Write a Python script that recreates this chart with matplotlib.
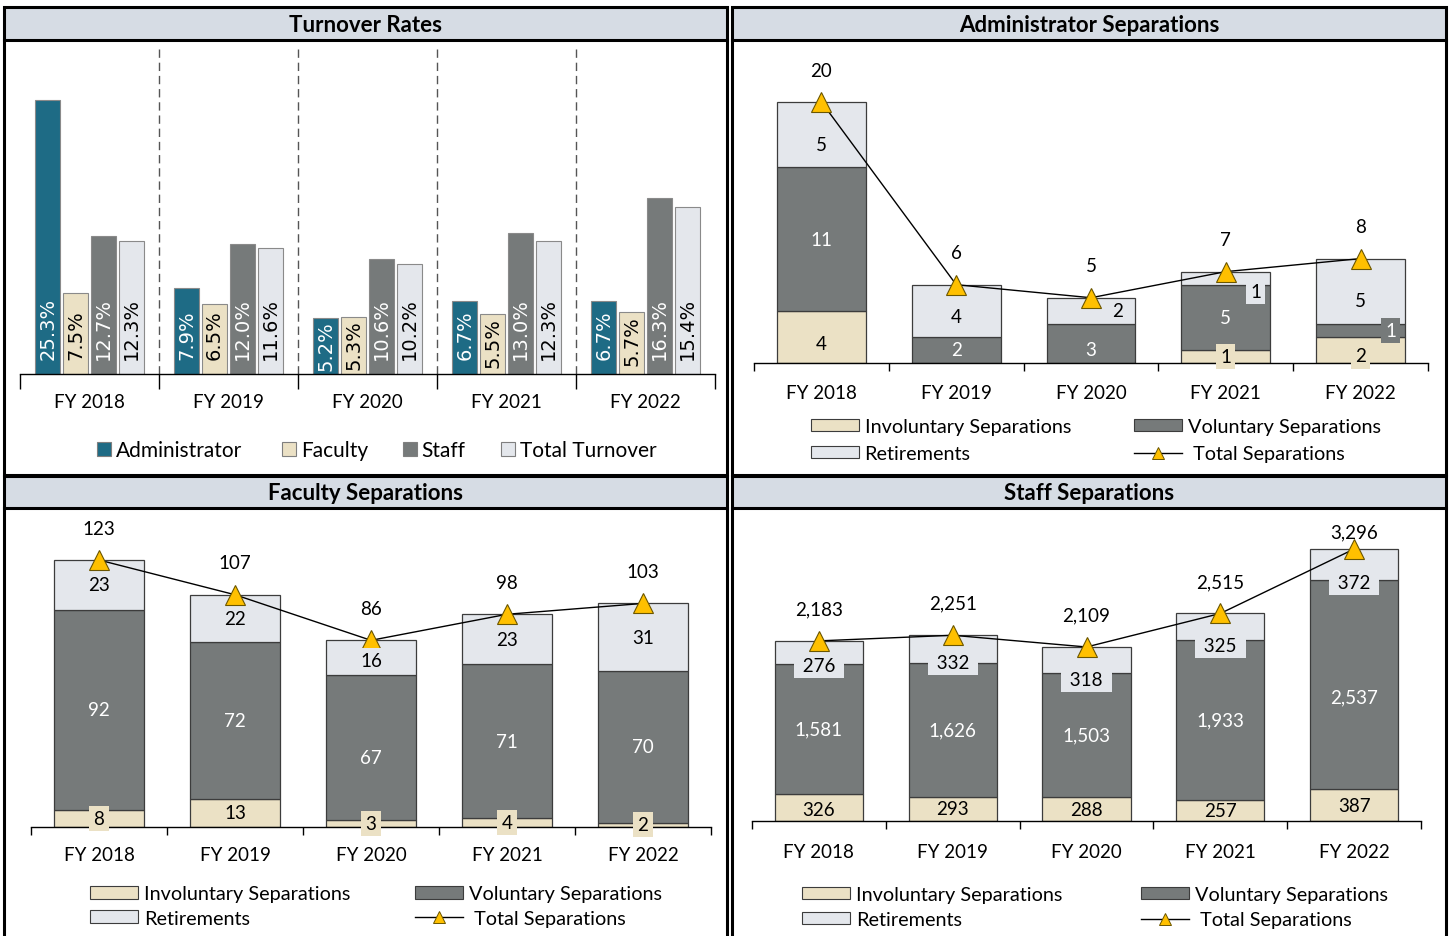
import matplotlib.pyplot as plt
from matplotlib.patches import Rectangle, Patch
from matplotlib.lines import Line2D
import numpy as np

plt.rcParams['font.family'] = ['Lato', 'DejaVu Sans']

years = ['FY 2018', 'FY 2019', 'FY 2020', 'FY 2021', 'FY 2022']

# turnover rates (%)
rate_admin = [25.3, 7.9, 5.2, 6.7, 6.7]
rate_faculty = [7.5, 6.5, 5.3, 5.5, 5.7]
rate_staff = [12.7, 12.0, 10.6, 13.0, 16.3]
rate_total = [12.3, 11.6, 10.2, 12.3, 15.4]

# separations
admin_inv = [4, 0, 0, 1, 2]
admin_vol = [11, 2, 3, 5, 1]
admin_ret = [5, 4, 2, 1, 5]
admin_total = [20, 6, 5, 7, 8]

faculty_inv = [8, 13, 3, 4, 2]
faculty_vol = [92, 72, 67, 71, 70]
faculty_ret = [23, 22, 16, 23, 31]
faculty_total = [123, 107, 86, 98, 103]

staff_inv = [326, 293, 288, 257, 387]
staff_vol = [1581, 1626, 1503, 1933, 2537]
staff_ret = [276, 332, 318, 325, 372]
staff_total = [2183, 2251, 2109, 2515, 3296]

C_ADMIN = '#1E6B85'
C_INV = '#EBE1C5'
C_VOL = '#767A7A'
C_RET = '#E4E7EC'
C_HEAD = '#D6DCE4'
C_GOLD = '#FFC000'
EDGE = '#3c3c3c'

W, H = 1449, 937
fig = plt.figure(figsize=(W / 100, H / 100), dpi=100)


def fx(x):
    return x / W


def fy(y):
    return 1 - y / H


def axes_px(x0, y0, x1, y1):
    ax = fig.add_axes([x0 / W, 1 - y1 / H, (x1 - x0) / W, (y1 - y0) / H])
    ax.patch.set_alpha(0)
    return ax


def panel(x0, y0, x1, y1, yh, title):
    fig.add_artist(Rectangle((fx(x0), fy(yh)), (x1 - x0) / W, (yh - y0) / H,
                             transform=fig.transFigure, fc=C_HEAD, ec='none', zorder=-1))
    fig.add_artist(Rectangle((fx(x0), fy(y1)), (x1 - x0) / W, (y1 - y0) / H,
                             transform=fig.transFigure, fill=False, ec='black', lw=2.2, zorder=10))
    fig.add_artist(Line2D([fx(x0), fx(x1)], [fy(yh), fy(yh)], transform=fig.transFigure,
                          color='black', lw=2.2, zorder=10))
    fig.text(fx((x0 + x1) / 2), fy((y0 + yh) / 2 + 1), title, ha='center', va='center',
             fontsize=16, fontweight='bold')


def category_axis(ax, ticklen, pad):
    ax.set_xlim(-0.5, 4.5)
    for s in ['left', 'right', 'top']:
        ax.spines[s].set_visible(False)
    ax.spines['bottom'].set_linewidth(1)
    ax.set_yticks([])
    ax.set_xticks(np.arange(-0.5, 5, 1))
    ax.set_xticklabels([])
    ax.tick_params(axis='x', which='major', length=ticklen, width=1, direction='out')
    ax.set_xticks(np.arange(5), minor=True)
    ax.set_xticklabels(years, minor=True, fontsize=13.5)
    ax.tick_params(axis='x', which='minor', length=0, pad=pad)


panel(4, 8, 727, 476, 41, 'Turnover Rates')
panel(732, 8, 1446, 476, 41, 'Administrator Separations')
panel(4, 477, 727, 945, 509, 'Faculty Separations')
panel(732, 477, 1446, 945, 509, 'Staff Separations')

# ---------------- Turnover rates ----------------
ax = axes_px(20, 48, 715, 375)
category_axis(ax, 11, 14)
ax.set_ylim(0, 30.2)
x = np.arange(5)
series = [(rate_admin, C_ADMIN, 'white', 'Administrator'),
          (rate_faculty, C_INV, 'black', 'Faculty'),
          (rate_staff, C_VOL, 'white', 'Staff'),
          (rate_total, C_RET, 'black', 'Total Turnover')]
offsets = [-0.3, -0.1, 0.1, 0.3]
for (vals, col, tcol, name), off in zip(series, offsets):
    ax.bar(x + off, vals, 0.18, color=col, edgecolor='#8a8a8a', lw=0.8, zorder=2)
    for xi, v in zip(x, vals):
        if v < 6:
            ax.text(xi + off, v - 0.25, f'{v:.1f}%', rotation=90, ha='center', va='top',
                    fontsize=14, color=tcol, family='DejaVu Sans', zorder=3)
        else:
            ax.text(xi + off, 1.4, f'{v:.1f}%', rotation=90, ha='center', va='bottom',
                    fontsize=14, color=tcol, family='DejaVu Sans', zorder=3)
ax.vlines([0.5, 1.5, 2.5, 3.5], 0, 30.2, colors='#555555', lw=1,
          linestyles=(0, (6, 3.5)), zorder=1)

for (vals, col, tcol, name), sx in zip(series, [97, 282, 403, 501]):
    fig.legend(handles=[Patch(fc=col, ec='#7f7f7f', lw=0.8)], labels=[name],
               loc='center left', bbox_to_anchor=(fx(sx), fy(451)), frameon=False,
               fontsize=15, handlelength=0.65, handleheight=0.65, handletextpad=0.25,
               borderpad=0, borderaxespad=0)


# ---------------- Stacked separations ----------------
def stacked(box, ylim_top, inv, vol, ret, total, fmt, ret_at_base, nudges, boxed,
            leg, spacing, pad, total_dy):
    ax = axes_px(*box)
    category_axis(ax, 6, pad)
    ax.set_ylim(0, ylim_top)
    x = np.arange(5)
    inv = np.array(inv)
    vol = np.array(vol)
    ret = np.array(ret)
    ax.bar(x, inv, 0.66, color=C_INV, edgecolor=EDGE, lw=0.9, zorder=2)
    ax.bar(x, vol, 0.66, bottom=inv, color=C_VOL, edgecolor=EDGE, lw=0.9, zorder=2)
    ax.bar(x, ret, 0.66, bottom=inv + vol, color=C_RET, edgecolor=EDGE, lw=0.9, zorder=2)

    parts = [('inv', inv, np.zeros(5), C_INV, 'black'),
             ('vol', vol, inv, C_VOL, 'white'),
             ('ret', ret, inv + vol, C_RET, 'black')]
    for key, vals, base, col, tcol in parts:
        for i in range(5):
            v = vals[i]
            if v == 0:
                continue
            label = fmt(v)
            if key == 'ret' and ret_at_base:
                yv = base[i]
                label = f' {label} '
            else:
                yv = base[i] + v / 2
            dx, dy = nudges.get((key, i), (0, 0))
            bb = None
            z = 4
            if (key, i) in boxed or (key == 'ret' and ret_at_base):
                bb = dict(fc=col, ec='none', pad=3)
                z = 6
            ax.annotate(label, (i, yv), xytext=(dx * 0.72, -dy * 0.72),
                        textcoords='offset points', ha='center', va='center',
                        fontsize=13.5, color=tcol, bbox=bb, zorder=z)

    ax.plot(x, total, color='black', lw=1, marker='^', ms=14, mfc=C_GOLD,
            mec='#6b5600', mew=0.8, zorder=5)
    for i, t in enumerate(total):
        ax.annotate(fmt(t), (i, t), xytext=(0, total_dy.get(i, 23)), textcoords='offset points',
                    ha='center', va='center', fontsize=13.5, zorder=5)

    (lx1, lx2, ly) = leg
    h_inv = Patch(fc=C_INV, ec=EDGE, lw=0.8)
    h_vol = Patch(fc=C_VOL, ec=EDGE, lw=0.8)
    h_ret = Patch(fc=C_RET, ec=EDGE, lw=0.8)
    h_tot = Line2D([], [], color='black', lw=1, marker='^', ms=9, mfc=C_GOLD,
                   mec='#6b5600', mew=0.7)
    kw = dict(loc='center left', frameon=False, fontsize=14.3, handlelength=2.4,
              handleheight=0.6, handletextpad=0.3, labelspacing=spacing,
              borderpad=0, borderaxespad=0)
    fig.legend(handles=[h_inv, h_ret], labels=['Involuntary Separations', 'Retirements'],
               bbox_to_anchor=(fx(lx1), fy(ly)), **kw)
    fig.legend(handles=[h_vol, h_tot], labels=['Voluntary Separations', ' Total Separations'],
               bbox_to_anchor=(fx(lx2), fy(ly)), **kw)
    return ax


stacked((754, 45, 1428, 364), 24.44, admin_inv, admin_vol, admin_ret, admin_total,
        lambda v: f'{v}', False,
        {('inv', 0): (0, 7), ('ret', 0): (0, 10), ('ret', 1): (0, 6), ('vol', 2): (0, 6),
         ('ret', 2): (27, 0), ('ret', 3): (30, 13), ('vol', 4): (30, 0),
         ('inv', 4): (0, 6), ('ret', 4): (0, 9)},
        {('inv', 3), ('ret', 3), ('vol', 4), ('inv', 4)},
        (811, 1134, 441), 0.52, 15, {})

stacked((31, 515, 711, 828), 144.2, faculty_inv, faculty_vol, faculty_ret, faculty_total,
        lambda v: f'{v}', False,
        {('vol', 2): (0, 10), ('ret', 2): (0, 3)},
        {('inv', 0), ('inv', 2), ('inv', 3), ('inv', 4), ('ret', 2)},
        (90, 415, 907), 0.37, 14, {})

stacked((752, 520, 1421, 822), 3660, staff_inv, staff_vol, staff_ret, staff_total,
        lambda v: f'{v:,}', True,
        {('ret', 0): (0, 2), ('ret', 1): (0, 0), ('ret', 2): (0, 6), ('ret', 3): (0, 5),
         ('ret', 4): (0, 3), ('vol', 4): (0, 12), ('inv', 0): (0, 2)},
        set(),
        (802, 1141, 908), 0.42, 16, {4: 12})

fig.savefig('out.png', dpi=100)
